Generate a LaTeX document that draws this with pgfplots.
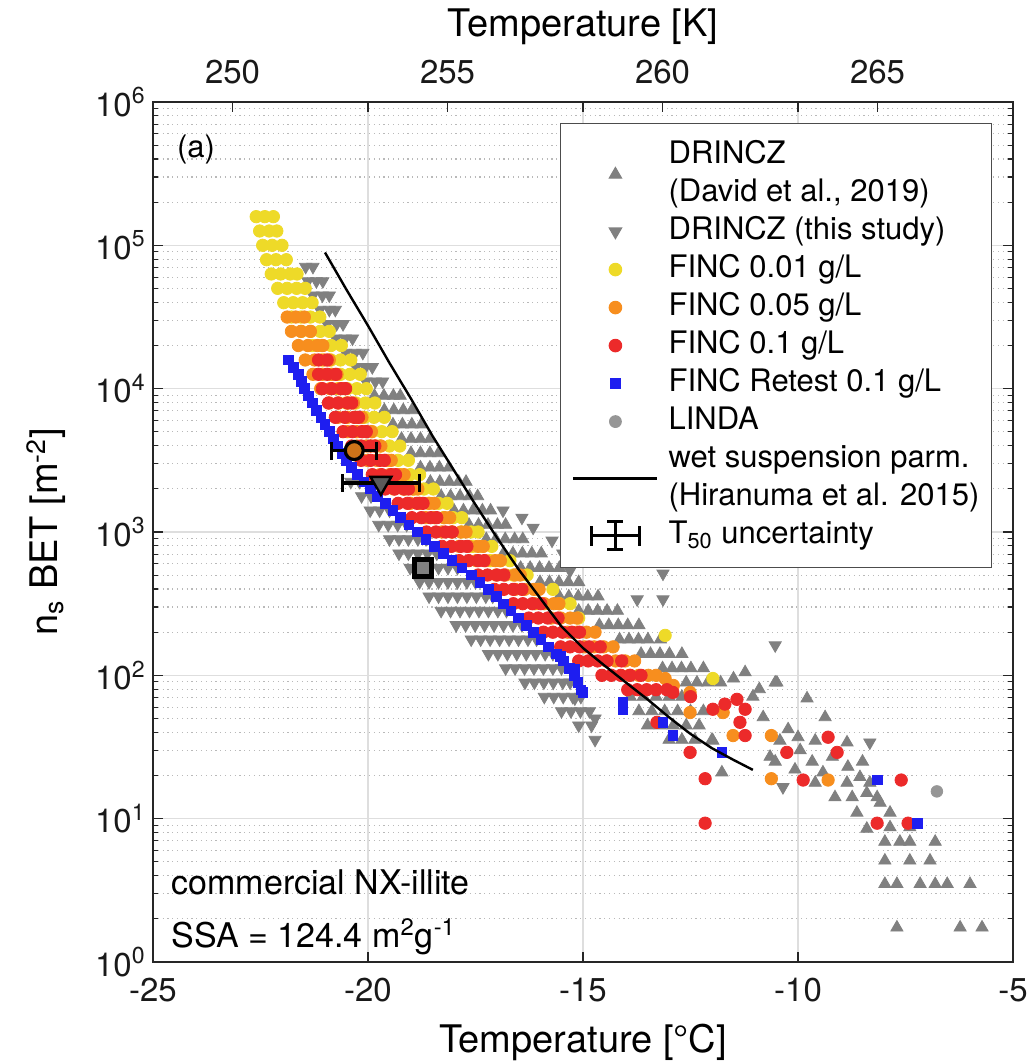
\documentclass[border=0pt]{standalone}
\usepackage{fontspec}
\setmainfont{TeX Gyre Heros}
\usepackage{pgfplots}
\pgfplotsset{compat=1.18}
\definecolor{cgray}{RGB}{128,128,128}
\definecolor{cyel}{RGB}{238,218,40}
\definecolor{cora}{RGB}{247,142,30}
\definecolor{cred}{RGB}{236,42,42}
\definecolor{cblue}{RGB}{30,30,240}
\definecolor{clinda}{RGB}{150,150,150}
\definecolor{gridc}{RGB}{222,222,222}
\definecolor{mgridc}{RGB}{185,185,185}
\definecolor{axc}{RGB}{38,38,38}
\definecolor{t50fill}{RGB}{205,115,25}
\pgfplotsset{
  mylegmark/.style={legend image code/.code={\path (0pt,0pt) (47pt,0pt);
     \draw[mark repeat=2,mark phase=2,##1] plot coordinates {(0pt,0pt) (21pt,0pt) (42pt,0pt)};}},
  myleglinestyle/.style={legend image code/.code={\path (0pt,0pt) (47pt,0pt);
     \draw[##1] (0pt,0pt) -- (42pt,0pt);}},
  mylegtfifty/.style={legend image code/.code={\path (0pt,0pt) (47pt,0pt);
    \draw[black, line width=1.4pt] (9pt,0pt) -- (33pt,0pt) (9pt,-5pt) -- (9pt,5pt) (33pt,-5pt) -- (33pt,5pt)
      (21pt,-7pt) -- (21pt,7pt) (17pt,-7pt) -- (25pt,-7pt) (17pt,7pt) -- (25pt,7pt);}},
}
\begin{document}
\begin{tikzpicture}
\useasboundingbox (-76.5pt,-51pt) rectangle (439.5pt,481pt);
\begin{axis}[
  at={(0pt,0pt)}, anchor=south west,
  scale only axis, width=430pt, height=430pt,
  clip marker paths=true,
  xmin=-25, xmax=-5, ymin=1, ymax=1e6, ymode=log,
  xtick={-25,-20,-15,-10,-5}, xticklabels={-25,-20,-15,-10,-5},
  ytick={1,10,100,1000,10000,100000,1000000},
  yticklabels={10\textsuperscript{0},10\textsuperscript{1},10\textsuperscript{2},10\textsuperscript{3},10\textsuperscript{4},10\textsuperscript{5},10\textsuperscript{6}},
  minor ytick={2,3,4,5,6,7,8,9,20,30,40,50,60,70,80,90,200,300,400,500,600,700,800,900,2000,3000,4000,5000,6000,7000,8000,9000,20000,30000,40000,50000,60000,70000,80000,90000,200000,300000,400000,500000,600000,700000,800000,900000},
  xmajorgrids, ymajorgrids, yminorgrids,
  major grid style={gridc, line width=0.6pt},
  minor grid style={mgridc, line width=0.6pt, dash pattern=on 0.6pt off 1.8pt},
  tick align=inside, major tick length=5pt, minor tick length=2.5pt,
  tick style={axc, line width=0.6pt},
  axis line style={axc, line width=0.7pt},
  tick label style={font=\fontsize{16.5}{19}\selectfont, inner sep=0pt, text=black!90},
  xticklabel style={yshift=-8pt},
  yticklabel style={xshift=-3.5pt},
  xlabel={Temperature [°C]},
  xlabel style={at={(axis description cs:0.5,-0.1047)}, anchor=base, font=\fontsize{19}{22}\selectfont, inner sep=0pt},
  ylabel={n\textsubscript{s} BET [m\textsuperscript{-2}]},
  ylabel style={at={(axis description cs:-0.1105,0.5)}, rotate=0, anchor=base, font=\fontsize{19}{22}\selectfont, inner sep=0pt},
  legend cell align=left,
  legend style={at={(0.9756,0.9756)}, anchor=north east, draw=black!70, line width=0.6pt, fill=white,
    inner xsep=6pt, inner ysep=6.5pt, font=\fontsize{15.5}{19}\selectfont,
    nodes={inner sep=0pt, text depth={}}, cells={align=left}},
]
% DRINCZ (David et al., 2019) - up triangles
\addplot[only marks, mark=triangle*, mark size=3.5pt, color=cgray, mylegmark] coordinates {
(-19.85,8913) (-19.63,8913) (-19.41,8913) (-19.25,8913)
(-19.62,7079) (-19.4,7079) (-19.18,7079) (-18.98,7079)
(-19.42,5623) (-19.2,5623) (-18.98,5623) (-18.76,5623)
(-19.22,4467) (-19.0,4467) (-18.78,4467) (-18.56,4467)
(-19.0,3548) (-18.78,3548) (-18.56,3548) (-18.36,3548)
(-18.78,2818) (-18.56,2818) (-18.34,2818) (-18.12,2818)
(-18.55,2239) (-18.33,2239) (-18.11,2239) (-17.89,2239) (-17.72,2239)
(-18.3,1778) (-18.08,1778) (-17.86,1778) (-17.64,1778) (-17.45,1778)
(-18.0,1413) (-17.78,1413) (-17.56,1413) (-17.34,1413) (-17.15,1413)
(-17.65,1122) (-17.43,1122) (-17.21,1122) (-16.99,1122) (-16.8,1122)
(-17.25,891) (-17.03,891) (-16.81,891) (-16.59,891) (-16.4,891)
(-16.85,708) (-16.63,708) (-16.41,708) (-16.19,708) (-15.97,708)
(-16.45,562) (-16.23,562) (-16.01,562) (-15.79,562) (-15.55,562)
(-16.0,447) (-15.78,447) (-15.56,447) (-15.34,447) (-15.1,447)
(-15.55,355) (-15.33,355) (-15.11,355) (-14.89,355) (-14.65,355)
(-15.1,282) (-14.88,282) (-14.66,282) (-14.44,282) (-14.2,282)
(-14.62,224) (-14.4,224) (-14.18,224) (-13.96,224) (-13.7,224)
(-14.15,178) (-13.93,178) (-13.71,178) (-13.49,178) (-13.2,178)
(-13.65,141) (-13.43,141) (-13.21,141) (-12.99,141) (-12.7,141)
(-13.15,112) (-12.93,112) (-12.71,112) (-12.49,112) (-12.2,112)
(-12.6,89.1) (-12.35,89.1) (-12.1,89.1) (-11.8,89.1)
(-13.9,70.8) (-13.6,70.8) (-13.3,70.8) (-13.0,70.8) (-12.7,70.8)
(-13.7,56.2) (-13.4,56.2) (-13.1,56.2) (-12.8,56.2) (-12.5,56.2) (-12.2,56.2)
(-13.5,44.7) (-13.2,44.7) (-12.9,44.7) (-12.6,44.7) (-12.3,44.7)
(-13.0,35.5) (-12.7,35.5) (-12.4,35.5) (-12.0,35.5)
(-11.23,105) (-10.53,89) (-11.05,71) (-10.81,51) (-11.98,35) (-11.77,21) (-10.42,35) (-10.65,27)
(-10.49,89) (-9.79,69) (-9.37,51) (-10.23,42) (-10.0,37) (-9.6,35) (-8.86,34) (-10.53,25)
(-10.07,22) (-9.67,25) (-9.42,21) (-8.84,23) (-8.56,19.5) (-8.33,17.8) (-9.6,17.8) (-9.14,14.1)
(-8.74,14.1) (-8.86,17.8) (-8.4,15.1) (-8.16,14.1) (-8.09,12.9) (-8.63,11) (-7.86,11) (-8.4,8.5)
(-7.86,8.7) (-7.4,8.7) (-7.98,6.9) (-7.63,6.9) (-7.4,6.9) (-6.81,6.9) (-7.98,5.1) (-7.4,5.1)
(-6.93,5.1) (-7.98,3.5) (-7.7,3.5) (-7.16,3.5) (-6.81,3.5) (-6.53,3.5) (-6.0,3.5)
(-7.7,1.74) (-6.23,1.74) (-5.72,1.74) (-11.5,95) (-10.9,80) (-9.95,30) (-9.2,27) (-8.5,25)
};
\addlegendentry{\strut DRINCZ\\\strut (David et al., 2019)}
% DRINCZ (this study) - down triangles
\addplot[only marks, mark=triangle*, mark size=3.5pt, color=cgray, mark options={rotate=180}, mylegmark] coordinates {
(-21.45,70800) (-21.28,70800)
(-21.4,56200) (-21.2,56200) (-21.05,56200)
(-21.28,44700) (-21.06,44700) (-20.9,44700)
(-21.12,35500) (-20.9,35500) (-20.76,35500)
(-20.95,28200) (-20.73,28200) (-20.58,28200)
(-20.75,22400) (-20.53,22400) (-20.36,22400)
(-20.52,17780) (-20.3,17780) (-20.12,17780)
(-20.28,14130) (-20.06,14130) (-19.9,14130)
(-20.05,11220) (-19.83,11220) (-19.66,11220)
(-20.4,2239) (-20.2,2239)
(-20.15,1778) (-19.93,1778)
(-19.95,1413) (-19.73,1413) (-19.5,1413)
(-19.75,1122) (-19.53,1122) (-19.31,1122) (-19.1,1122)
(-19.5,891) (-19.28,891) (-19.06,891) (-18.84,891) (-18.65,891)
(-19.28,708) (-19.06,708) (-18.84,708) (-18.62,708) (-18.4,708)
(-19.02,562) (-18.8,562) (-18.58,562) (-18.36,562) (-18.14,562) (-17.92,562)
(-18.8,447) (-18.58,447) (-18.36,447) (-18.14,447) (-17.92,447) (-17.7,447) (-17.5,447)
(-18.58,355) (-18.36,355) (-18.14,355) (-17.92,355) (-17.7,355) (-17.48,355) (-17.26,355) (-17.1,355)
(-18.3,282) (-18.08,282) (-17.86,282) (-17.64,282) (-17.42,282) (-17.2,282) (-16.98,282) (-16.78,282)
(-17.95,224) (-17.73,224) (-17.51,224) (-17.29,224) (-17.07,224) (-16.85,224) (-16.63,224) (-16.42,224)
(-17.6,178) (-17.38,178) (-17.16,178) (-16.94,178) (-16.72,178) (-16.5,178) (-16.28,178) (-16.08,178)
(-17.2,141) (-16.98,141) (-16.76,141) (-16.54,141) (-16.32,141) (-16.1,141) (-15.88,141) (-15.7,141)
(-16.8,112) (-16.58,112) (-16.36,112) (-16.14,112) (-15.92,112) (-15.7,112) (-15.5,112)
(-16.35,89.1) (-16.13,89.1) (-15.91,89.1) (-15.69,89.1) (-15.47,89.1) (-15.3,89.1)
(-15.9,70.8) (-15.68,70.8) (-15.46,70.8) (-15.24,70.8) (-15.05,70.8)
(-15.5,56.2) (-15.28,56.2) (-15.06,56.2) (-14.85,56.2)
(-15.1,44.7) (-14.8,44.7) (-14.72,35.5)
(-16.86,1413) (-16.42,1259) (-16.16,1072) (-15.72,871) (-15.47,708) (-15.3,537)
(-13.14,513) (-13.74,339) (-13.14,339) (-10.53,162) (-8.33,34) (-10.35,16.6) (-14.72,50) (-15.19,69)
};
\addlegendentry{\strut DRINCZ (this study)}
% FINC 0.01 g/L
\addplot[only marks, mark=*, mark size=3.1pt, color=cyel, mylegmark] coordinates {
(-22.6,1.585e5) (-22.4,1.585e5) (-22.2,1.585e5)
(-22.52,1.259e5) (-22.3,1.259e5) (-22.12,1.259e5)
(-22.45,1e5) (-22.23,1e5) (-22.0,1e5)
(-22.36,7.94e4) (-22.14,7.94e4) (-21.9,7.94e4)
(-22.25,6.31e4) (-22.03,6.31e4) (-21.81,6.31e4) (-21.65,6.31e4)
(-22.1,5.01e4) (-21.88,5.01e4) (-21.66,5.01e4) (-21.46,5.01e4)
(-21.96,3.98e4) (-21.74,3.98e4) (-21.52,3.98e4) (-21.3,3.98e4)
(-21.78,3.16e4) (-21.56,3.16e4) (-21.34,3.16e4) (-21.12,3.16e4)
(-21.55,2.51e4) (-21.33,2.51e4) (-21.11,2.51e4) (-20.9,2.51e4)
(-21.3,2e4) (-21.08,2e4) (-20.86,2e4) (-20.62,2e4)
(-21.08,1.585e4) (-20.86,1.585e4) (-20.64,1.585e4) (-20.4,1.585e4)
(-20.86,1.259e4) (-20.64,1.259e4) (-20.42,1.259e4) (-20.18,1.259e4)
(-20.7,1e4) (-20.48,1e4) (-20.26,1e4) (-20.04,1e4)
(-20.5,7943) (-20.28,7943) (-20.06,7943) (-19.84,7943)
(-20.3,6310) (-20.08,6310) (-19.86,6310) (-19.62,6310)
(-20.12,5012) (-19.9,5012) (-19.68,5012) (-19.44,5012)
(-19.94,3981) (-19.72,3981) (-19.5,3981) (-19.26,3981)
(-19.74,3162) (-19.52,3162) (-19.3,3162) (-19.06,3162)
(-19.46,2512) (-19.24,2512) (-19.02,2512) (-18.8,2512)
(-19.14,1995) (-18.92,1995) (-18.7,1995) (-18.48,1995)
(-18.8,1585) (-18.58,1585) (-18.36,1585) (-18.16,1585)
(-18.46,1259) (-18.24,1259) (-18.02,1259) (-17.82,1259)
(-18.04,1000) (-17.82,1000) (-17.6,1000) (-17.44,1000)
(-17.56,794) (-17.34,794) (-17.12,794)
(-17.15,631) (-16.93,631) (-16.7,631)
(-16.62,501) (-16.3,501) (-16.05,398) (-15.7,398) (-15.55,316) (-15.3,316) (-15.1,251)
(-13.09,190) (-11.98,95)
};
\addlegendentry{\strut FINC 0.01 g/L}
% FINC 0.05 g/L
\addplot[only marks, mark=*, mark size=3.1pt, color=cora, mylegmark] coordinates {
(-21.88,31600) (-21.68,31600) (-21.48,31600)
(-21.78,25100) (-21.56,25100) (-21.34,25100)
(-21.62,20000) (-21.4,20000) (-21.18,20000) (-21.05,20000)
(-21.46,15850) (-21.24,15850) (-21.02,15850) (-20.9,15850)
(-21.28,12590) (-21.06,12590) (-20.84,12590) (-20.72,12590)
(-21.1,10000) (-20.88,10000) (-20.66,10000) (-20.54,10000)
(-20.9,7943) (-20.68,7943) (-20.46,7943) (-20.34,7943)
(-20.7,6310) (-20.48,6310) (-20.26,6310) (-20.14,6310)
(-20.48,5012) (-20.26,5012) (-20.04,5012) (-19.92,5012)
(-20.26,3981) (-20.04,3981) (-19.82,3981) (-19.7,3981)
(-20.02,3162) (-19.8,3162) (-19.58,3162) (-19.46,3162)
(-19.72,2512) (-19.5,2512) (-19.28,2512) (-19.16,2512)
(-19.4,1995) (-19.18,1995) (-18.96,1995) (-18.84,1995)
(-19.02,1585) (-18.8,1585) (-18.58,1585) (-18.46,1585)
(-18.66,1259) (-18.44,1259) (-18.22,1259) (-18.1,1259)
(-18.28,1000) (-18.06,1000) (-17.84,1000) (-17.72,1000)
(-17.88,794) (-17.66,794) (-17.44,794) (-17.32,794)
(-17.48,631) (-17.26,631) (-17.04,631) (-16.92,631)
(-17.02,501) (-16.8,501) (-16.58,501) (-16.46,501)
(-16.58,398) (-16.36,398) (-16.14,398) (-16.02,398)
(-16.12,316) (-15.9,316) (-15.68,316) (-15.56,316)
(-15.74,251) (-15.52,251) (-15.3,251) (-15.14,251)
(-15.36,200) (-15.14,200) (-14.92,200) (-14.72,200)
(-14.96,158) (-14.74,158) (-14.52,158) (-14.3,158)
(-14.46,126) (-14.24,126) (-14.02,126) (-13.8,126)
(-13.92,100) (-13.7,100) (-13.48,100) (-13.3,100)
(-13.09,95) (-12.51,76) (-12.51,55) (-11.74,55) (-11.51,38) (-10.62,38) (-10.62,19) (-9.3,18.6) (-12.9,85)
};
\addlegendentry{\strut FINC 0.05 g/L}
% FINC 0.1 g/L
\addplot[only marks, mark=*, mark size=3.1pt, color=cred, mylegmark] coordinates {
(-21.15,15850) (-20.95,15850)
(-21.15,12590) (-20.95,12590) (-20.75,12590)
(-21.06,10000) (-20.84,10000) (-20.62,10000) (-20.52,10000)
(-20.92,7943) (-20.7,7943) (-20.48,7943) (-20.38,7943)
(-20.76,6310) (-20.54,6310) (-20.32,6310) (-20.22,6310)
(-20.58,5012) (-20.36,5012) (-20.14,5012) (-20.04,5012)
(-20.38,3981) (-20.16,3981) (-19.94,3981) (-19.84,3981)
(-20.16,3162) (-19.94,3162) (-19.72,3162) (-19.62,3162)
(-19.9,2512) (-19.68,2512) (-19.46,2512) (-19.36,2512)
(-19.6,1995) (-19.38,1995) (-19.16,1995) (-19.06,1995)
(-19.3,1585) (-19.08,1585) (-18.86,1585) (-18.72,1585)
(-18.98,1259) (-18.76,1259) (-18.54,1259) (-18.4,1259)
(-18.64,1000) (-18.42,1000) (-18.2,1000) (-18.04,1000)
(-18.28,794) (-18.06,794) (-17.84,794) (-17.7,794)
(-17.88,631) (-17.66,631) (-17.44,631) (-17.3,631)
(-17.44,501) (-17.22,501) (-17.0,501) (-16.84,501)
(-17.06,398) (-16.84,398) (-16.62,398) (-16.42,398)
(-16.62,316) (-16.4,316) (-16.18,316) (-15.98,316)
(-16.26,251) (-16.04,251) (-15.82,251) (-15.58,251)
(-15.92,200) (-15.7,200) (-15.48,200) (-15.26,200) (-15.08,200)
(-15.52,158) (-15.3,158) (-15.08,158) (-14.86,158) (-14.6,158)
(-15.1,126) (-14.88,126) (-14.66,126) (-14.44,126) (-14.1,126)
(-14.56,100) (-14.34,100) (-14.12,100) (-13.9,100) (-13.65,100)
(-13.96,79.4) (-13.74,79.4) (-13.52,79.4) (-13.3,79.4) (-13.05,79.4)
(-13.28,47) (-12.91,76) (-12.5,71) (-11.98,58) (-11.7,63) (-11.42,68) (-11.23,58) (-11.35,47)
(-11.23,38) (-12.51,29) (-12.16,19) (-12.16,9.3) (-10.26,29) (-9.3,37) (-9.09,29) (-9.88,18.6)
(-7.6,18.6) (-8.16,9.3) (-7.44,9.3)
};
\addlegendentry{\strut FINC 0.1 g/L}
% FINC Retest 0.1 g/L
\addplot[only marks, mark=square*, mark size=2.4pt, color=cblue, mylegmark] coordinates {
(-21.85,15850) (-21.74,14130) (-21.62,12590) (-21.55,11220) (-21.48,10000) (-21.39,8913)
(-21.3,7943) (-21.2,7079) (-21.1,6310) (-21.0,5623) (-20.9,5012) (-20.8,4467)
(-20.7,3981) (-20.6,3548) (-20.5,3162) (-20.38,2818) (-20.25,2512) (-20.1,2239)
(-19.95,1995) (-19.78,1778) (-19.6,1585) (-19.42,1413) (-19.25,1259) (-19.05,1122)
(-18.85,1000) (-18.65,891) (-18.45,794) (-18.25,708) (-18.05,631) (-17.82,562)
(-17.6,501) (-17.4,447) (-17.2,398) (-17.02,355) (-16.85,316) (-16.68,282)
(-16.5,251) (-16.32,224) (-16.15,200) (-15.98,178) (-15.8,158) (-15.62,141)
(-15.45,126) (-15.32,112) (-15.2,100) (-15.12,89.1) (-15.05,79.4)
(-15.53,135) (-15.19,110) (-15.0,76) (-14.07,65) (-14.07,58) (-13.14,47) (-12.91,38) (-11.77,29)
(-8.16,18.6) (-7.23,9.3)
};
\addlegendentry{\strut FINC Retest 0.1 g/L}
% LINDA
\addplot[only marks, mark=*, mark size=2.9pt, color=clinda, mylegmark] coordinates {(-6.77,15.5)};
\addlegendentry{\strut LINDA}
% wet suspension parameterisation
\addplot[black, line width=1.2pt, myleglinestyle] coordinates {
(-21.0,8.91e4) (-20.5,4.9e4) (-20.0,2.75e4) (-19.5,1.51e4) (-19.0,8510) (-18.5,4680)
(-18.0,2690) (-17.5,1550) (-17.0,912) (-16.5,550) (-16.0,347) (-15.5,219) (-15.0,155)
(-14.5,117) (-14.0,89) (-13.5,68) (-13.0,51) (-12.5,39) (-12.0,31) (-11.5,25.7) (-11.05,21.9)
};
\addlegendentry{\strut wet suspension parm.\\\strut (Hiranuma et al. 2015)}
% T50 markers
\addplot[forget plot, only marks, mark=*, mark size=4.5pt, mark options={fill=t50fill, draw=black, line width=1.6pt},
  error bars/.cd, x dir=both, x explicit, error mark=|, error bar style={line width=1.6pt, black},
  error mark options={line width=1.6pt, mark size=4.5pt, black}]
  coordinates {(-20.32,3700) +- (0.52,0)};
\addplot[forget plot, only marks, mark=square*, mark size=4.3pt, mark options={fill=cgray, draw=black, line width=2.2pt, rounded corners=2pt}]
  coordinates {(-18.72,560)};
\addplot[only marks, mark=triangle*, mark size=6pt, mark options={rotate=180, fill=cgray!70!black, draw=black, line width=1.2pt},
  mylegtfifty,
  error bars/.cd, x dir=both, x explicit, error mark=|, error bar style={line width=1.6pt, black},
  error mark options={line width=1.6pt, mark size=4.5pt, black}]
  coordinates {(-19.7,2200) +- (0.9,0)};
\addlegendentry{\strut T\textsubscript{50} uncertainty}
\node[anchor=base west, font=\fontsize{15.5}{18}\selectfont] at (rel axis cs:0.0198,0.935) {(a)};
\node[anchor=base west, font=\fontsize{17}{19}\selectfont] at (rel axis cs:0.0135,0.078) {commercial NX-illite};
\node[anchor=base west, font=\fontsize{17}{19}\selectfont] at (rel axis cs:0.0135,0.0163) {SSA = 124.4 m\textsuperscript{2}g\textsuperscript{-1}};
\end{axis}
\begin{axis}[
  at={(0pt,0pt)}, anchor=south west,
  scale only axis, width=430pt, height=430pt,
  xmin=248.15, xmax=268.15, ymin=0, ymax=1,
  axis x line*=top, axis y line=none,
  xtick={250,255,260,265}, xticklabels={250,255,260,265},
  tick align=inside, major tick length=5pt,
  tick style={axc, line width=0.6pt},
  axis line style={axc, line width=0.7pt},
  tick label style={font=\fontsize{16.5}{19}\selectfont, inner sep=0pt, text=black!90},
  xticklabel style={anchor=south, yshift=9pt},
  xlabel={Temperature [K]},
  xlabel style={at={(axis description cs:0.5,1.0767)}, anchor=base, font=\fontsize{19}{22}\selectfont, inner sep=0pt},
]
\end{axis}
\end{tikzpicture}
\end{document}
